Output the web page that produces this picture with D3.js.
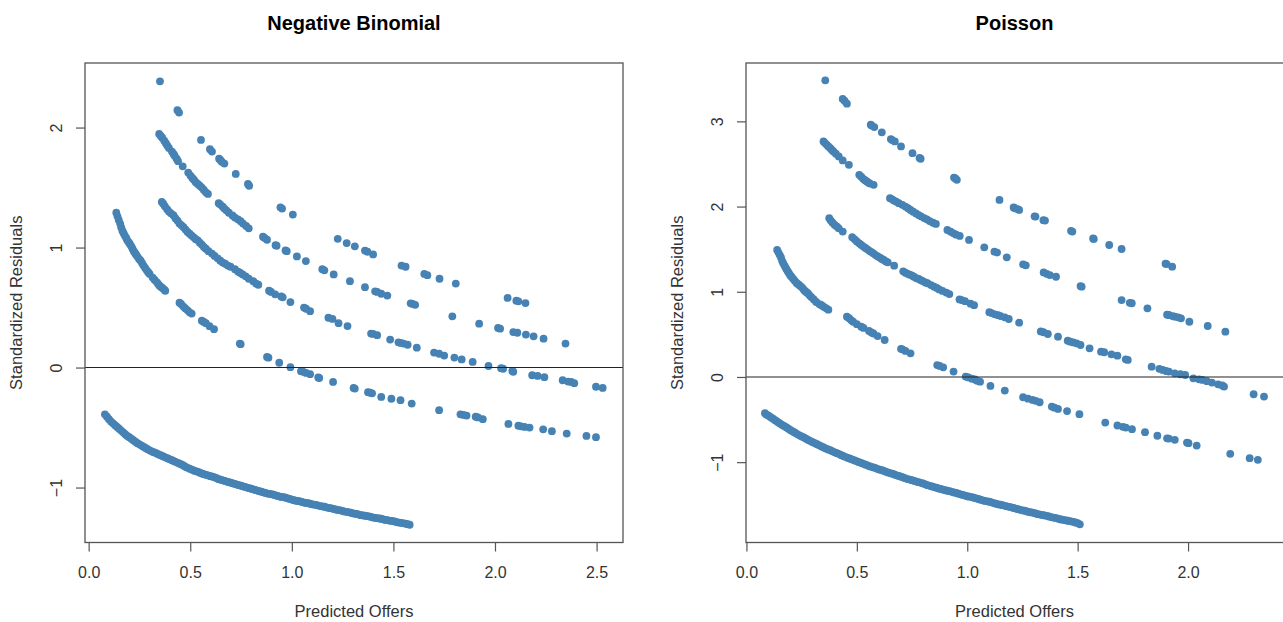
<!DOCTYPE html>
<html>
<head>
<meta charset="utf-8">
<script src="https://cdn.jsdelivr.net/npm/d3@7"></script>
<style>
  body { margin: 0; background: #fff; }
  svg { display: block; font-family: "Liberation Sans", Arial, sans-serif; }
</style>
</head>
<body>
<div id="chart"></div>
<script>
// residual bands, [predicted, residual]
var nbBand0 = [[0.08,-0.39],[0.09,-0.41],[0.10,-0.43],[0.11,-0.45],[0.12,-0.465],[0.13,-0.48],[0.14,-0.495],[0.15,-0.51],[0.16,-0.525],[0.17,-0.54],[0.18,-0.555],[0.19,-0.57],[0.20,-0.58],[0.21,-0.593],[0.22,-0.605],[0.23,-0.618],[0.24,-0.63],[0.25,-0.64],[0.26,-0.65],[0.27,-0.66],[0.28,-0.67],[0.29,-0.68],[0.30,-0.69],[0.31,-0.698],[0.32,-0.705],[0.33,-0.712],[0.34,-0.72],[0.35,-0.728],[0.36,-0.735],[0.37,-0.743],[0.38,-0.75],[0.39,-0.758],[0.40,-0.765],[0.41,-0.772],[0.42,-0.78],[0.43,-0.788],[0.44,-0.795],[0.45,-0.803],[0.46,-0.81],[0.47,-0.82],[0.48,-0.83],[0.49,-0.838],[0.50,-0.845],[0.51,-0.852],[0.52,-0.86],[0.53,-0.865],[0.54,-0.87],[0.55,-0.878],[0.56,-0.885],[0.57,-0.89],[0.58,-0.895],[0.59,-0.90],[0.60,-0.905],[0.61,-0.91],[0.62,-0.915],[0.63,-0.922],[0.64,-0.93],[0.65,-0.935],[0.66,-0.94],[0.67,-0.945],[0.68,-0.95],[0.69,-0.955],[0.70,-0.96],[0.71,-0.965],[0.72,-0.97],[0.73,-0.975],[0.74,-0.98],[0.75,-0.985],[0.76,-0.99],[0.77,-0.995],[0.78,-1.00],[0.79,-1.005],[0.80,-1.01],[0.81,-1.015],[0.82,-1.02],[0.83,-1.025],[0.84,-1.03],[0.85,-1.035],[0.86,-1.04],[0.87,-1.045],[0.88,-1.05],[0.89,-1.052],[0.90,-1.055],[0.91,-1.06],[0.92,-1.065],[0.93,-1.07],[0.94,-1.075],[0.95,-1.078],[0.96,-1.08],[0.97,-1.085],[0.98,-1.09],[0.99,-1.095],[1.00,-1.10],[1.01,-1.105],[1.02,-1.11],[1.03,-1.112],[1.04,-1.115],[1.05,-1.12],[1.06,-1.125],[1.07,-1.128],[1.08,-1.13],[1.09,-1.135],[1.10,-1.14],[1.11,-1.142],[1.12,-1.145],[1.13,-1.15],[1.14,-1.155],[1.15,-1.158],[1.16,-1.16],[1.17,-1.165],[1.18,-1.17],[1.19,-1.172],[1.20,-1.175],[1.21,-1.18],[1.22,-1.185],[1.23,-1.188],[1.24,-1.19],[1.25,-1.195],[1.26,-1.20],[1.27,-1.202],[1.28,-1.205],[1.29,-1.21],[1.30,-1.215],[1.31,-1.218],[1.32,-1.22],[1.33,-1.225],[1.34,-1.23],[1.35,-1.232],[1.36,-1.235],[1.37,-1.238],[1.38,-1.24],[1.39,-1.245],[1.40,-1.25],[1.41,-1.252],[1.42,-1.255],[1.43,-1.258],[1.44,-1.26],[1.45,-1.265],[1.46,-1.27],[1.47,-1.272],[1.48,-1.275],[1.49,-1.278],[1.50,-1.28],[1.51,-1.285],[1.52,-1.29],[1.53,-1.292],[1.54,-1.295],[1.55,-1.298],[1.56,-1.30],[1.57,-1.305],[1.58,-1.31]];
var nbBand1 = [[0.136,1.29],[0.142,1.26],[0.148,1.23],[0.155,1.20],[0.160,1.17],[0.166,1.14],[0.172,1.12],[0.178,1.10],[0.185,1.08],[0.19,1.06],[0.197,1.045],[0.203,1.03],[0.21,1.01],[0.216,0.99],[0.222,0.97],[0.228,0.955],[0.234,0.94],[0.24,0.925],[0.248,0.905],[0.256,0.89],[0.263,0.87],[0.27,0.85],[0.278,0.83],[0.286,0.81],[0.293,0.795],[0.30,0.78],[0.315,0.75],[0.325,0.73],[0.336,0.71],[0.343,0.695],[0.35,0.68],[0.358,0.67],[0.365,0.66],[0.372,0.65],[0.377,0.64],[0.447,0.54],[0.455,0.53],[0.465,0.51],[0.475,0.495],[0.487,0.477],[0.497,0.46],[0.507,0.45],[0.557,0.39],[0.567,0.38],[0.577,0.37],[0.595,0.345],[0.617,0.32],[0.744,0.20],[0.748,0.195],[0.878,0.088],[0.885,0.082],[0.938,0.04],[0.993,0.003],[1.045,-0.03],[1.055,-0.035],[1.07,-0.045],[1.09,-0.055],[1.13,-0.083],[1.135,-0.087],[1.203,-0.12],[1.304,-0.17],[1.31,-0.175],[1.375,-0.205],[1.385,-0.21],[1.395,-0.215],[1.44,-0.245],[1.49,-0.26],[1.535,-0.272],[1.59,-0.30],[1.725,-0.355],[1.83,-0.39],[1.845,-0.395],[1.86,-0.40],[1.905,-0.41],[1.916,-0.416],[1.94,-0.43],[2.066,-0.47],[2.115,-0.485],[2.128,-0.49],[2.145,-0.495],[2.17,-0.50],[2.237,-0.515],[2.28,-0.53],[2.353,-0.55],[2.45,-0.57],[2.497,-0.58]];
var nbBand2 = [[0.36,1.38],[0.367,1.365],[0.375,1.345],[0.386,1.32],[0.395,1.30],[0.405,1.285],[0.417,1.27],[0.427,1.245],[0.437,1.225],[0.447,1.20],[0.457,1.185],[0.467,1.17],[0.477,1.15],[0.487,1.13],[0.497,1.115],[0.507,1.10],[0.517,1.085],[0.527,1.07],[0.537,1.06],[0.547,1.04],[0.557,1.025],[0.567,1.005],[0.577,0.99],[0.59,0.97],[0.607,0.95],[0.62,0.93],[0.635,0.91],[0.648,0.89],[0.66,0.875],[0.672,0.865],[0.685,0.85],[0.698,0.84],[0.72,0.82],[0.735,0.80],[0.745,0.79],[0.758,0.776],[0.773,0.76],[0.788,0.74],[0.81,0.72],[0.824,0.70],[0.835,0.69],[0.888,0.64],[0.898,0.63],[0.918,0.61],[0.948,0.593],[0.955,0.585],[0.993,0.546],[1.06,0.50],[1.07,0.49],[1.09,0.47],[1.18,0.415],[1.20,0.405],[1.23,0.37],[1.274,0.346],[1.39,0.283],[1.40,0.28],[1.42,0.27],[1.484,0.233],[1.525,0.21],[1.536,0.205],[1.55,0.20],[1.57,0.19],[1.615,0.166],[1.70,0.125],[1.725,0.115],[1.75,0.10],[1.80,0.083],[1.836,0.068],[1.89,0.047],[1.968,0.013],[2.03,-0.005],[2.04,-0.01],[2.085,-0.028],[2.09,-0.035],[2.183,-0.064],[2.21,-0.07],[2.243,-0.08],[2.333,-0.106],[2.36,-0.117],[2.375,-0.12],[2.39,-0.13],[2.497,-0.16],[2.53,-0.17]];
var nbBand3 = [[0.347,1.947],[0.355,1.93],[0.362,1.915],[0.372,1.89],[0.38,1.87],[0.387,1.85],[0.395,1.83],[0.41,1.80],[0.418,1.78],[0.423,1.766],[0.433,1.74],[0.44,1.72],[0.463,1.677],[0.49,1.625],[0.501,1.60],[0.51,1.58],[0.518,1.565],[0.527,1.545],[0.537,1.53],[0.547,1.515],[0.557,1.50],[0.567,1.48],[0.577,1.46],[0.587,1.447],[0.64,1.37],[0.648,1.358],[0.66,1.34],[0.668,1.325],[0.678,1.31],[0.69,1.29],[0.708,1.267],[0.72,1.25],[0.735,1.235],[0.748,1.22],[0.76,1.20],[0.775,1.18],[0.788,1.16],[0.858,1.09],[0.866,1.08],[0.878,1.065],[0.92,1.02],[0.925,1.015],[0.969,0.976],[0.975,0.97],[1.025,0.926],[1.069,0.887],[1.15,0.82],[1.16,0.81],[1.206,0.776],[1.286,0.72],[1.36,0.67],[1.41,0.635],[1.42,0.63],[1.44,0.615],[1.47,0.60],[1.585,0.535],[1.595,0.53],[1.607,0.523],[1.79,0.427],[1.922,0.366],[2.015,0.33],[2.025,0.324],[2.09,0.296],[2.11,0.29],[2.152,0.275],[2.19,0.26],[2.239,0.241],[2.347,0.20]];
var nbBand4 = [[0.553,1.897],[0.597,1.82],[0.607,1.80],[0.642,1.74],[0.648,1.73],[0.655,1.715],[0.668,1.70],[0.724,1.614],[0.784,1.53],[0.79,1.515],[0.944,1.335],[0.952,1.325],[1.005,1.275],[1.226,1.073],[1.27,1.037],[1.31,1.01],[1.36,0.975],[1.372,0.965],[1.40,0.943],[1.54,0.85],[1.56,0.84],[1.652,0.78],[1.667,0.77],[1.727,0.74],[1.807,0.70],[2.062,0.58],[2.105,0.557],[2.115,0.552],[2.15,0.537]];
var nbBand5 = [[0.351,2.385],[0.437,2.145],[0.445,2.125]];

var psBand0 = [[0.084,-0.425],[0.09,-0.44],[0.10,-0.455],[0.11,-0.472],[0.12,-0.49],[0.13,-0.508],[0.14,-0.525],[0.15,-0.542],[0.16,-0.56],[0.17,-0.575],[0.18,-0.59],[0.19,-0.608],[0.20,-0.625],[0.21,-0.64],[0.22,-0.655],[0.23,-0.67],[0.24,-0.685],[0.25,-0.698],[0.26,-0.71],[0.27,-0.725],[0.28,-0.74],[0.29,-0.752],[0.30,-0.765],[0.31,-0.778],[0.32,-0.79],[0.33,-0.803],[0.34,-0.815],[0.35,-0.828],[0.36,-0.84],[0.37,-0.85],[0.38,-0.86],[0.39,-0.873],[0.40,-0.885],[0.41,-0.895],[0.42,-0.905],[0.43,-0.918],[0.44,-0.93],[0.45,-0.94],[0.46,-0.95],[0.47,-0.96],[0.48,-0.97],[0.49,-0.98],[0.50,-0.99],[0.51,-1.00],[0.52,-1.01],[0.53,-1.02],[0.54,-1.03],[0.55,-1.04],[0.56,-1.05],[0.57,-1.058],[0.58,-1.065],[0.59,-1.075],[0.60,-1.085],[0.61,-1.092],[0.62,-1.10],[0.63,-1.11],[0.64,-1.12],[0.65,-1.128],[0.66,-1.135],[0.67,-1.145],[0.68,-1.155],[0.69,-1.162],[0.70,-1.17],[0.71,-1.18],[0.72,-1.19],[0.73,-1.198],[0.74,-1.205],[0.75,-1.212],[0.76,-1.22],[0.77,-1.228],[0.78,-1.235],[0.79,-1.242],[0.80,-1.25],[0.81,-1.26],[0.82,-1.27],[0.83,-1.278],[0.84,-1.285],[0.85,-1.292],[0.86,-1.30],[0.87,-1.308],[0.88,-1.315],[0.89,-1.322],[0.90,-1.33],[0.91,-1.335],[0.92,-1.34],[0.93,-1.348],[0.94,-1.355],[0.95,-1.362],[0.96,-1.37],[0.97,-1.378],[0.98,-1.385],[0.99,-1.392],[1.00,-1.40],[1.01,-1.405],[1.02,-1.41],[1.03,-1.418],[1.04,-1.425],[1.05,-1.432],[1.06,-1.44],[1.07,-1.448],[1.08,-1.455],[1.09,-1.46],[1.10,-1.465],[1.11,-1.472],[1.12,-1.48],[1.13,-1.488],[1.14,-1.495],[1.15,-1.50],[1.16,-1.505],[1.17,-1.512],[1.18,-1.52],[1.19,-1.525],[1.20,-1.53],[1.21,-1.538],[1.22,-1.545],[1.23,-1.552],[1.24,-1.56],[1.25,-1.565],[1.26,-1.57],[1.27,-1.578],[1.28,-1.585],[1.29,-1.59],[1.30,-1.595],[1.31,-1.602],[1.32,-1.61],[1.33,-1.615],[1.34,-1.62],[1.35,-1.625],[1.36,-1.63],[1.37,-1.638],[1.38,-1.645],[1.39,-1.65],[1.40,-1.655],[1.41,-1.662],[1.42,-1.67],[1.43,-1.675],[1.44,-1.68],[1.45,-1.685],[1.46,-1.69],[1.47,-1.695],[1.48,-1.70],[1.49,-1.708],[1.50,-1.715],[1.51,-1.73]];
var psBand1 = [[0.139,1.49],[0.145,1.46],[0.151,1.43],[0.157,1.40],[0.162,1.36],[0.167,1.333],[0.174,1.30],[0.18,1.27],[0.186,1.245],[0.192,1.22],[0.198,1.195],[0.204,1.176],[0.212,1.15],[0.22,1.125],[0.228,1.10],[0.236,1.085],[0.243,1.07],[0.25,1.055],[0.258,1.03],[0.265,1.01],[0.272,0.995],[0.279,0.98],[0.287,0.955],[0.295,0.935],[0.305,0.91],[0.316,0.88],[0.33,0.855],[0.338,0.845],[0.344,0.835],[0.352,0.82],[0.362,0.805],[0.371,0.79],[0.455,0.707],[0.465,0.69],[0.475,0.665],[0.483,0.648],[0.50,0.62],[0.52,0.59],[0.53,0.575],[0.555,0.54],[0.566,0.523],[0.575,0.51],[0.594,0.48],[0.626,0.434],[0.70,0.33],[0.706,0.324],[0.72,0.305],[0.743,0.277],[0.864,0.14],[0.875,0.13],[0.891,0.113],[0.938,0.063],[0.993,0.004],[1.005,-0.005],[1.021,-0.02],[1.035,-0.03],[1.045,-0.045],[1.058,-0.055],[1.105,-0.105],[1.17,-0.16],[1.253,-0.238],[1.275,-0.255],[1.296,-0.27],[1.31,-0.28],[1.328,-0.297],[1.383,-0.348],[1.395,-0.36],[1.411,-0.375],[1.452,-0.40],[1.508,-0.437],[1.625,-0.535],[1.68,-0.57],[1.705,-0.585],[1.718,-0.594],[1.746,-0.613],[1.805,-0.648],[1.861,-0.69],[1.905,-0.72],[1.913,-0.723],[1.94,-0.738],[1.995,-0.77],[2.002,-0.777],[2.039,-0.805],[2.191,-0.902],[2.279,-0.953],[2.316,-0.973]];
var psBand2 = [[0.375,1.863],[0.382,1.835],[0.39,1.81],[0.40,1.785],[0.41,1.765],[0.418,1.745],[0.436,1.706],[0.479,1.64],[0.49,1.615],[0.50,1.59],[0.511,1.569],[0.52,1.55],[0.53,1.53],[0.539,1.515],[0.548,1.498],[0.557,1.48],[0.566,1.465],[0.575,1.45],[0.585,1.431],[0.595,1.415],[0.605,1.40],[0.613,1.385],[0.622,1.373],[0.632,1.355],[0.64,1.345],[0.669,1.306],[0.71,1.24],[0.72,1.224],[0.73,1.21],[0.74,1.20],[0.75,1.19],[0.758,1.176],[0.77,1.16],[0.78,1.15],[0.79,1.135],[0.799,1.125],[0.81,1.11],[0.82,1.10],[0.836,1.078],[0.85,1.06],[0.862,1.045],[0.873,1.027],[0.888,1.01],[0.905,0.99],[0.919,0.973],[0.965,0.91],[0.975,0.902],[0.99,0.89],[1.015,0.86],[1.031,0.843],[1.10,0.76],[1.11,0.75],[1.125,0.735],[1.14,0.725],[1.151,0.715],[1.17,0.70],[1.188,0.68],[1.235,0.637],[1.333,0.535],[1.345,0.525],[1.365,0.504],[1.411,0.473],[1.455,0.425],[1.467,0.414],[1.48,0.405],[1.495,0.395],[1.513,0.375],[1.554,0.336],[1.606,0.297],[1.62,0.29],[1.653,0.266],[1.68,0.25],[1.718,0.207],[1.727,0.20],[1.835,0.121],[1.87,0.095],[1.885,0.082],[1.90,0.07],[1.913,0.063],[1.94,0.043],[1.965,0.032],[1.987,0.023],[2.024,-0.016],[2.05,-0.028],[2.065,-0.035],[2.085,-0.05],[2.108,-0.066],[2.136,-0.086],[2.155,-0.10],[2.163,-0.113],[2.297,-0.203],[2.344,-0.23]];
var psBand3 = [[0.349,2.765],[0.356,2.745],[0.364,2.725],[0.371,2.706],[0.38,2.685],[0.387,2.665],[0.394,2.647],[0.405,2.62],[0.418,2.588],[0.436,2.541],[0.464,2.49],[0.511,2.373],[0.52,2.35],[0.529,2.325],[0.537,2.31],[0.545,2.295],[0.553,2.28],[0.56,2.27],[0.576,2.255],[0.65,2.098],[0.66,2.085],[0.668,2.07],[0.678,2.059],[0.69,2.04],[0.706,2.02],[0.72,2.00],[0.732,1.98],[0.743,1.96],[0.755,1.94],[0.768,1.92],[0.78,1.90],[0.79,1.885],[0.805,1.865],[0.817,1.85],[0.83,1.83],[0.845,1.81],[0.858,1.796],[0.91,1.725],[0.925,1.705],[0.938,1.686],[0.95,1.67],[0.966,1.655],[1.008,1.608],[1.077,1.522],[1.123,1.47],[1.135,1.46],[1.179,1.404],[1.253,1.322],[1.265,1.31],[1.346,1.227],[1.36,1.21],[1.374,1.196],[1.402,1.176],[1.513,1.067],[1.518,1.06],[1.699,0.902],[1.736,0.87],[1.745,0.865],[1.816,0.805],[1.905,0.73],[1.913,0.727],[1.93,0.715],[1.94,0.707],[1.955,0.70],[1.968,0.688],[2.006,0.648],[2.089,0.598],[2.169,0.531]];
var psBand4 = [[0.563,2.961],[0.567,2.95],[0.579,2.933],[0.613,2.871],[0.654,2.792],[0.66,2.78],[0.672,2.765],[0.70,2.706],[0.752,2.627],[0.784,2.57],[0.789,2.561],[0.94,2.34],[0.946,2.33],[0.953,2.314],[1.146,2.078],[1.21,1.99],[1.216,1.98],[1.228,1.97],[1.235,1.96],[1.305,1.885],[1.309,1.882],[1.345,1.84],[1.352,1.835],[1.47,1.715],[1.476,1.706],[1.57,1.625],[1.573,1.62],[1.643,1.549],[1.699,1.502],[1.898,1.33],[1.903,1.325],[1.928,1.294]];
var psBand5 = [[0.357,3.482],[0.436,3.263],[0.445,3.24],[0.455,3.208]];

var nbXTicks = [0, 0.5, 1, 1.5, 2, 2.5];
var nbYTicks = [-1, 0, 1, 2];
var psXTicks = [0, 0.5, 1, 1.5, 2];
var psYTicks = [-1, 0, 1, 2, 3];

var svgWidth = 1283;
var svgHeight = 622;

var svg = d3.select("#chart")
  .append("svg")
  .attr("width", svgWidth)
  .attr("height", svgHeight);

svg.append("rect")
  .attr("width", svgWidth)
  .attr("height", svgHeight)
  .attr("fill", "#fff");

var panels = [
  {
    title: "Negative Binomial",
    points: [].concat(nbBand0, nbBand1, nbBand2, nbBand3, nbBand4, nbBand5),
    xDomain: [-0.018, 2.63], xRange: [85, 623],
    yDomain: [-1.458, 2.538],
    xTicks: nbXTicks, yTicks: nbYTicks
  },
  {
    title: "Poisson",
    points: [].concat(psBand0, psBand1, psBand2, psBand3, psBand4, psBand5),
    xDomain: [-0.002, 2.4345], xRange: [746, 1284],
    yDomain: [-1.943, 3.685],
    xTicks: psXTicks, yTicks: psYTicks
  }
];

var plotTop = 63, plotBottom = 542.5;

panels.forEach(function (p) {
  var x = d3.scaleLinear().domain(p.xDomain).range(p.xRange);
  var y = d3.scaleLinear().domain(p.yDomain).range([plotBottom, plotTop]);
  var left = p.xRange[0], right = p.xRange[1];
  var mid = (left + Math.min(right, 1283)) / 2;

  var g = svg.append("g");

  // points
  g.selectAll("circle")
    .data(p.points)
    .enter()
    .append("circle")
    .attr("cx", d => x(d[0]))
    .attr("cy", d => y(d[1]))
    .attr("r", 3.9)
    .attr("fill", "#4682b4");

  // zero line
  g.append("line")
    .attr("x1", left).attr("x2", right)
    .attr("y1", y(0)).attr("y2", y(0))
    .attr("stroke", "#222")
    .attr("stroke-width", 1.1);

  // box
  g.append("rect")
    .attr("x", left).attr("y", plotTop)
    .attr("width", right - left).attr("height", plotBottom - plotTop)
    .attr("fill", "none")
    .attr("stroke", "#555")
    .attr("stroke-width", 1.3);

  // x axis
  var xAxis = d3.axisBottom(x)
    .tickValues(p.xTicks)
    .tickFormat(d3.format(".1f"))
    .tickSize(9)
    .tickSizeOuter(0);
  var gx = g.append("g")
    .attr("transform", `translate(0, ${plotBottom})`)
    .call(xAxis);
  gx.select(".domain").remove();
  gx.selectAll("line").attr("stroke", "#555").attr("stroke-width", 1.2);
  gx.selectAll("text")
    .attr("y", 35.5)
    .attr("dy", "0")
    .attr("font-size", "16px")
    .attr("font-family", "Liberation Sans, Arial, sans-serif")
    .attr("fill", "#333");

  // y axis
  var yAxis = d3.axisLeft(y)
    .tickValues(p.yTicks)
    .tickFormat(d3.format("d"))
    .tickSize(9)
    .tickSizeOuter(0);
  var gy = g.append("g")
    .attr("transform", `translate(${left}, 0)`)
    .call(yAxis);
  gy.select(".domain").remove();
  gy.selectAll("line").attr("stroke", "#555").attr("stroke-width", 1.2);
  gy.selectAll("text")
    .attr("x", 0)
    .attr("dy", "0")
    .attr("transform", "translate(-23, 0) rotate(-90)")
    .attr("text-anchor", "middle")
    .attr("font-size", "16px")
    .attr("font-family", "Liberation Sans, Arial, sans-serif")
    .attr("fill", "#333");

  // titles
  g.append("text")
    .attr("x", mid).attr("y", 30)
    .attr("text-anchor", "middle")
    .attr("font-size", "20px")
    .attr("font-weight", "bold")
    .attr("fill", "#000")
    .text(p.title);

  g.append("text")
    .attr("x", mid).attr("y", 617)
    .attr("text-anchor", "middle")
    .attr("font-size", "16.5px")
    .attr("fill", "#333")
    .text("Predicted Offers");

  g.append("text")
    .attr("transform", `translate(${left - 63}, ${(plotTop + plotBottom) / 2}) rotate(-90)`)
    .attr("text-anchor", "middle")
    .attr("font-size", "16.5px")
    .attr("fill", "#333")
    .text("Standardized Residuals");
});
</script>
</body>
</html>
